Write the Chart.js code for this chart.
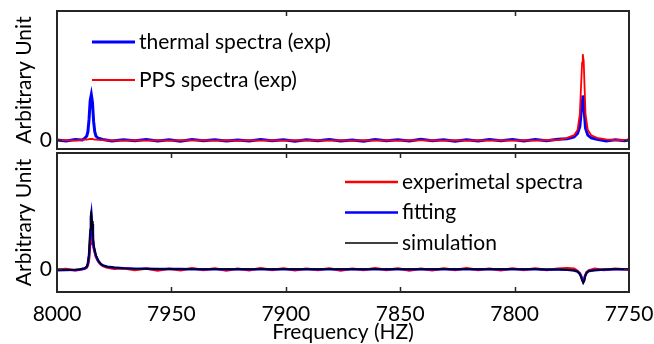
<!DOCTYPE html>
<html>
<head>
<meta charset="utf-8">
<script src="https://cdn.jsdelivr.net/npm/chart.js@4"></script>
<style>
html, body { margin: 0; padding: 0; background: #fff; overflow: hidden; }
#wrap { position: relative; width: 654px; height: 344px; overflow: hidden; }
#topBox { position: absolute; left: 0; top: 0; width: 654px; height: 152px; }
#botBox { position: absolute; left: 0; top: 150px; width: 654px; height: 194px; }
</style>
</head>
<body>
<div id="wrap">
  <div id="topBox"><canvas id="topChart"></canvas></div>
  <div id="botBox"><canvas id="bottomChart"></canvas></div>
</div>
<script>
// ---- data ----
const xTicks = [8000, 7950, 7900, 7850, 7800, 7750];
const topInnerTicks = [7900, 7800];
const bottomInnerTicks = [7950, 7900, 7850, 7800];

// upper panel: thermal vs PPS spectra
const topFreq = [8000, 7996, 7992, 7989, 7988, 7987, 7986.5, 7986, 7985.5, 7985, 7984.5, 7984, 7983.5, 7983, 7982, 7980,
  7976, 7971, 7966, 7961, 7956, 7951, 7946, 7941, 7936, 7931, 7926, 7921, 7916, 7911, 7906, 7901, 7896, 7891, 7886,
  7881, 7876, 7871, 7866, 7861, 7856, 7851, 7846, 7841, 7836, 7831, 7826, 7821, 7816, 7811, 7806, 7801, 7796, 7791,
  7786, 7781, 7777, 7774, 7772.5, 7771.5, 7771, 7770.5, 7770.2, 7769.8, 7769.4, 7769, 7768, 7766.5, 7764, 7760, 7756, 7752, 7750];
const thermal = [0.005, -0.008, 0.01, 0.004, 0.02, 0.05, 0.1, 0.24, 0.46, 0.53, 0.44, 0.22, 0.1, 0.05, 0.025, 0.01,
  -0.006, 0.008, -0.004, 0.009, -0.007, 0.006, -0.009, 0.01, -0.005, 0.007, -0.008, 0.004, -0.006, 0.011, -0.004, 0.008, -0.009, 0.006, -0.003,
  0.01, -0.007, 0.005, -0.01, 0.009, -0.005, 0.007, -0.008, 0.012, -0.004, 0.006, -0.009, 0.008, -0.006, 0.01, -0.005, 0.009, -0.007, 0.011,
  -0.004, 0.012, 0.02, 0.04, 0.08, 0.16, 0.3, 0.46, 0.52, 0.45, 0.28, 0.14, 0.06, 0.03, 0.012, -0.006, 0.008, -0.005, 0.006];
const pps = [0.002, 0.004, -0.002, 0.005, 0.008, 0.01, 0.012, 0.014, 0.016, 0.018, 0.016, 0.013, 0.01, 0.008, 0.005, 0.003,
  0.0, -0.003, 0.004, -0.002, 0.003, -0.004, 0.003, -0.001, 0.004, -0.003, 0.002, -0.004, 0.003, -0.002, 0.004, -0.003, 0.003, -0.001, 0.004,
  -0.004, 0.002, -0.003, 0.004, -0.002, 0.003, -0.003, 0.003, -0.001, 0.004, -0.004, 0.002, -0.003, 0.004, -0.002, 0.003, -0.003, 0.004, -0.002,
  0.006, 0.004, 0.03, 0.06, 0.12, 0.3, 0.6, 0.9, 1.0, 0.92, 0.6, 0.3, 0.12, 0.06, 0.03, 0.012, 0.004, 0.006, 0.003];

// lower panel: experiment, fitting, simulation
const bottomFreq = [8000, 7996, 7992, 7990, 7988, 7987, 7986.5, 7986, 7985.5, 7985.2, 7985, 7984.7, 7984.3, 7984, 7983.5, 7983,
  7982, 7981, 7980, 7978, 7975, 7971, 7966, 7961, 7956, 7951, 7946, 7941, 7936, 7931, 7926, 7921, 7916, 7911, 7906,
  7901, 7896, 7891, 7886, 7881, 7876, 7871, 7866, 7861, 7856, 7851, 7846, 7841, 7836, 7831, 7826, 7821, 7816, 7811,
  7806, 7801, 7796, 7791, 7786, 7781, 7777, 7774, 7772.5, 7771.5, 7771, 7770.5, 7770, 7769.6, 7769.2, 7768.5, 7767.5, 7765, 7761, 7756, 7750];
const experiment = [-0.01, 0.005, -0.02, -0.005, 0.01, 0.03, 0.07, 0.18, 0.45, 0.7, 0.75, 0.62, 0.5, 0.38, 0.3, 0.22,
  0.14, 0.09, 0.06, 0.03, 0.01, 0.02, -0.01, 0.015, -0.02, 0.01, -0.015, 0.02, -0.01, 0.012, -0.02, 0.008, -0.015, 0.018, -0.01,
  0.012, -0.018, 0.01, -0.012, 0.016, -0.02, 0.01, -0.014, 0.018, -0.01, 0.012, -0.02, 0.01, -0.016, 0.014, -0.01, 0.02, -0.012, 0.01,
  -0.018, 0.012, -0.01, 0.016, -0.014, 0.01, 0.02, 0.01, -0.03, -0.07, -0.11, -0.17, -0.21, -0.18, -0.11, -0.05, -0.02, 0.01, -0.012, 0.01, -0.008];
const fitting = [-0.015, -0.012, -0.008, -0.002, 0.015, 0.04, 0.1, 0.25, 0.62, 0.92, 0.98, 0.8, 0.55, 0.42, 0.32, 0.24,
  0.15, 0.1, 0.07, 0.045, 0.03, 0.02, 0.012, 0.008, 0.006, 0.005, 0.004, 0.003, 0.003, 0.002, 0.002, 0.002, 0.001, 0.001, 0.001,
  0.001, 0.0, 0.0, 0.0, 0.0, 0.0, 0.0, 0.0, 0.0, 0.0, 0.0, 0.0, 0.0, 0.0, 0.0, 0.0, 0.0, 0.0, 0.0,
  0.0, 0.0, 0.0, 0.0, -0.002, -0.005, -0.01, -0.02, -0.04, -0.08, -0.12, -0.18, -0.23, -0.2, -0.12, -0.06, -0.03, -0.015, -0.005, 0.0, 0.0];
const simulation = [-0.012, -0.01, -0.006, 0.0, 0.02, 0.05, 0.12, 0.3, 0.7, 1.0, 1.02, 0.85, 0.6, 0.45, 0.34, 0.25,
  0.16, 0.1, 0.07, 0.045, 0.03, 0.02, 0.012, 0.008, 0.006, 0.005, 0.004, 0.003, 0.003, 0.002, 0.002, 0.002, 0.001, 0.001, 0.001,
  0.001, 0.0, 0.0, 0.0, 0.0, 0.0, 0.0, 0.0, 0.0, 0.0, 0.0, 0.0, 0.0, 0.0, 0.0, 0.0, 0.0, 0.0, 0.0,
  0.0, 0.0, 0.0, 0.0, -0.002, -0.005, -0.01, -0.02, -0.04, -0.08, -0.13, -0.19, -0.24, -0.21, -0.13, -0.06, -0.03, -0.015, -0.005, 0.0, 0.0];

const fontFamily = 'Lato, "Open Sans", sans-serif';
const fontSize = 21;

function pairs(xs, ys) {
  return xs.map((x, i) => ({ x: x, y: ys[i] }));
}

// labels at the plot edges must not shrink the plot area
function noEdgePadding(s) {
  s.paddingTop = 0; s.paddingBottom = 0; s.paddingLeft = 0; s.paddingRight = 0;
}

// box around the plot area + inward tick marks (matlab look)
const frameBox = {
  id: 'frameBox',
  afterDatasetsDraw(chart, args, opts) {
    const { ctx, chartArea: a, scales } = chart;
    ctx.save();
    ctx.strokeStyle = '#262626';
    ctx.lineWidth = 1.5;
    (opts.xTicks || []).forEach(v => {
      const px = Math.round(scales.x.getPixelForValue(v)) + 0.5;
      ctx.beginPath();
      ctx.moveTo(px, a.top); ctx.lineTo(px, a.top + 5);
      ctx.moveTo(px, a.bottom); ctx.lineTo(px, a.bottom - 5);
      ctx.stroke();
    });
    const py = scales.y.getPixelForValue(0);
    ctx.beginPath();
    ctx.moveTo(a.left, py); ctx.lineTo(a.left + 5, py);
    ctx.moveTo(a.right, py); ctx.lineTo(a.right - 5, py);
    ctx.stroke();
    ctx.lineWidth = 2;
    ctx.strokeRect(a.left, a.top, a.right - a.left, a.bottom - a.top);
    ctx.restore();
  }
};

// legend drawn inside the axes
const insideLegend = {
  id: 'insideLegend',
  afterDraw(chart, args, opts) {
    const ctx = chart.ctx;
    ctx.save();
    ctx.font = fontSize + 'px ' + fontFamily;
    ctx.textBaseline = 'middle';
    chart.data.datasets.forEach((ds, i) => {
      const y = opts.y + i * opts.gap;
      ctx.strokeStyle = ds.borderColor;
      ctx.lineWidth = ds.borderWidth;
      ctx.beginPath();
      ctx.moveTo(opts.x, y);
      ctx.lineTo(opts.x + opts.len, y);
      ctx.stroke();
      ctx.fillStyle = '#000';
      ctx.fillText(ds.label, opts.x + opts.len + 4, y);
    });
    ctx.restore();
  }
};

function yAxis(min, max) {
  return {
    type: 'linear', min: min, max: max,
    afterBuildTicks: s => { s.ticks = [{ value: 0 }]; },
    afterFit: s => { s.width = 57; noEdgePadding(s); },
    grid: { display: false, drawTicks: false },
    border: { display: false },
    ticks: { color: '#000', font: { family: fontFamily, size: fontSize }, padding: 5 },
    title: { display: true, text: 'Arbitrary Unit', color: '#000',
      font: { family: fontFamily, size: fontSize }, padding: { top: 12, bottom: 0 } }
  };
}

const topChart = new Chart(document.getElementById('topChart'), {
  type: 'line',
  data: {
    datasets: [
      { label: 'thermal spectra (exp)', data: pairs(topFreq, thermal), borderColor: '#0000ff',
        borderWidth: 3, pointRadius: 0, tension: 0, order: 2 },
      { label: 'PPS spectra (exp)', data: pairs(topFreq, pps), borderColor: '#ff0000',
        borderWidth: 1.8, pointRadius: 0, tension: 0, order: 1 }
    ]
  },
  options: {
    responsive: true, maintainAspectRatio: false, animation: false,
    layout: { padding: { top: 11, right: 25, bottom: 3, left: 0 } },
    scales: {
      x: { type: 'linear', min: 7750, max: 8000, reverse: true, display: false },
      y: yAxis(-0.1, 1.5)
    },
    plugins: {
      legend: { display: false }, tooltip: { enabled: false },
      frameBox: { xTicks: topInnerTicks },
      insideLegend: { x: 92, y: 42, gap: 38, len: 43 }
    }
  },
  plugins: [frameBox, insideLegend]
});

const bottomChart = new Chart(document.getElementById('bottomChart'), {
  type: 'line',
  data: {
    datasets: [
      { label: 'experimetal spectra', data: pairs(bottomFreq, experiment), borderColor: '#ff0000',
        borderWidth: 2.5, pointRadius: 0, tension: 0, order: 3 },
      { label: 'fitting', data: pairs(bottomFreq, fitting), borderColor: '#0000ff',
        borderWidth: 2.5, pointRadius: 0, tension: 0, order: 2 },
      { label: 'simulation', data: pairs(bottomFreq, simulation), borderColor: '#000000',
        borderWidth: 1.5, pointRadius: 0, tension: 0, order: 1 }
    ]
  },
  options: {
    responsive: true, maintainAspectRatio: false, animation: false,
    layout: { padding: { top: 3, right: 25, bottom: 0, left: 0 } },
    scales: {
      x: {
        type: 'linear', min: 7750, max: 8000, reverse: true,
        afterBuildTicks: s => { s.ticks = xTicks.map(v => ({ value: v })); },
        afterFit: s => { s.height = 52; noEdgePadding(s); },
        grid: { display: false, drawTicks: false },
        border: { display: false },
        ticks: { color: '#000', font: { family: fontFamily, size: fontSize }, padding: 10,
          maxRotation: 0, autoSkip: false, callback: v => String(v) },
        title: { display: true, text: 'Frequency (HZ)', color: '#000',
          font: { family: fontFamily, size: fontSize }, padding: { top: 0, bottom: -1 } }
      },
      y: yAxis(-0.4, 2.05)
    },
    plugins: {
      legend: { display: false }, tooltip: { enabled: false },
      frameBox: { xTicks: bottomInnerTicks },
      insideLegend: { x: 345, y: 32, gap: 30.5, len: 53 }
    }
  },
  plugins: [frameBox, insideLegend]
});
</script>
</body>
</html>
